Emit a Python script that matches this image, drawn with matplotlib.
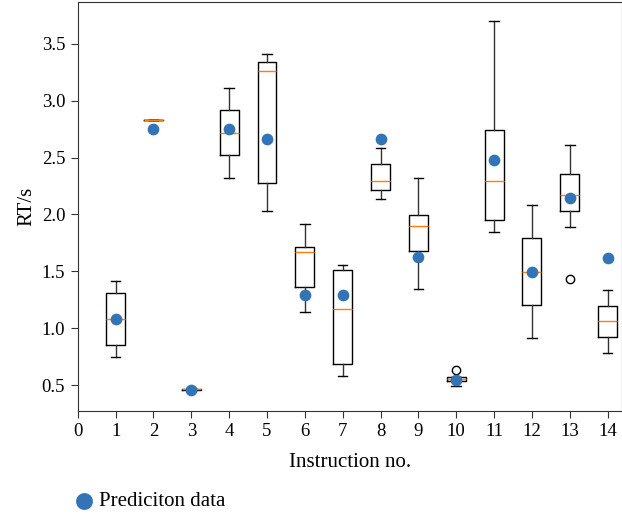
import matplotlib
matplotlib.use("Agg")
import matplotlib.pyplot as plt

plt.rcParams['font.family'] = ['Liberation Serif', 'DejaVu Serif']

positions = [1, 2, 3, 4, 5, 6, 7, 8, 9, 10, 11, 12, 13, 14]
whislo = [0.748, 2.83, 0.452, 2.318, 2.026, 1.140, 0.576, 2.132, 1.342, 0.489, 1.848, 0.910, 1.892, 0.781]
q1     = [0.854, 2.83, 0.455, 2.518, 2.280, 1.366, 0.684, 2.211, 1.675, 0.532, 1.947, 1.200, 2.026, 0.921]
med    = [1.085, 2.83, 0.462, 2.717, 3.257, 1.669, 1.169, 2.292, 1.900, 0.553, 2.298, 1.497, 2.169, 1.059]
q3     = [1.313, 2.83, 0.470, 2.915, 3.340, 1.710, 1.511, 2.439, 1.994, 0.570, 2.746, 1.790, 2.357, 1.196]
whishi = [1.415, 2.83, 0.472, 3.108, 3.406, 1.915, 1.555, 2.588, 2.322, 0.575, 3.700, 2.085, 2.614, 1.333]
fliers = [[], [], [], [], [], [], [], [], [], [0.629], [], [], [1.43], []]
prediction = [1.085, 2.752, 0.46, 2.752, 2.664, 1.29, 1.29, 2.667, 1.623, 0.544, 2.476, 1.49, 2.143, 1.62]
xticks = list(range(0, 15))

fig = plt.figure(figsize=(6.22, 5.21), dpi=100)
ax = fig.add_axes([0.125, 0.2117, 0.875, 0.7843])

stats = []
for i in range(len(positions)):
    stats.append(dict(whislo=whislo[i], q1=q1[i], med=med[i], q3=q3[i],
                      whishi=whishi[i], fliers=fliers[i]))

ax.bxp(stats, positions=positions, widths=0.5, showfliers=True,
       boxprops=dict(color='black', linewidth=1.0),
       whiskerprops=dict(color='#333333', linewidth=1.0),
       capprops=dict(color='black', linewidth=1.0),
       medianprops=dict(color='#ff7f0e', linewidth=1.0),
       flierprops=dict(marker='o', markerfacecolor='none', markeredgecolor='black',
                       markersize=6, markeredgewidth=1.0))

ax.scatter(positions, prediction, s=55, color='#3274b5', zorder=5, label='Prediciton data')

ax.set_xlim(0, 14.38)
ax.set_ylim(0.275, 3.866)
ax.set_xticks(xticks)
ax.set_xticklabels([str(t) for t in xticks])
ax.set_yticks([0.5, 1.0, 1.5, 2.0, 2.5, 3.0, 3.5])
ax.tick_params(labelsize=13.5, length=5, color='#333333', pad=4)
for s in ax.spines.values():
    s.set_color('#333333')
ax.set_xlabel('Instruction no.', fontsize=15, labelpad=9.5)
ax.set_ylabel('RT/s', fontsize=15, labelpad=4)

fig.legend(loc='lower left', bbox_to_anchor=(74 / 622, 10 / 521), frameon=False,
           fontsize=15, handletextpad=0.2, handlelength=1.0, markerscale=1.5,
           borderpad=0, borderaxespad=0)

fig.savefig('out.png', dpi=100)
